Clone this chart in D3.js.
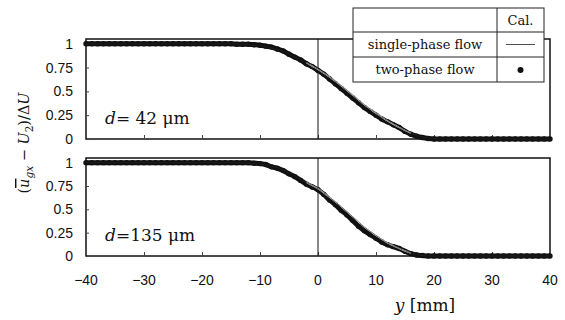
<!DOCTYPE html>
<html>
<head>
<meta charset="utf-8">
<script src="https://cdn.jsdelivr.net/npm/d3@7.9.0/dist/d3.min.js"></script>
<style>
  body { margin: 0; background: #fff; }
  svg { display: block; }
</style>
</head>
<body>
<svg id="chart" width="565" height="320"></svg>
<script>
// positions along y [mm], 1 mm step
const yPos = d3.range(-40, 41, 1);

// d = 42 um, two-phase (dots) and single-phase (line)
const twoPhase42 = [
  1, 1, 1, 1, 1, 1, 1, 1, 1, 1,
  1, 1, 1, 1, 1, 1, 1, 1, 1, 1,
  1, 1, 1, 1, 1, 1, 0.995, 0.995, 0.995, 0.99,
  0.985, 0.975, 0.965, 0.945, 0.925, 0.89, 0.86, 0.83, 0.79, 0.76,
  0.72, 0.68, 0.63, 0.58, 0.53, 0.48, 0.43, 0.38, 0.33, 0.29,
  0.25, 0.21, 0.18, 0.15, 0.12, 0.08, 0.05, 0.03, 0.015, 0.005,
  0, 0, 0, 0, 0, 0, 0, 0, 0, 0,
  0, 0, 0, 0, 0, 0, 0, 0, 0, 0, 0
];
const singlePhase42 = [
  1, 1, 1, 1, 1, 1, 1, 1, 1, 1,
  1, 1, 1, 1, 1, 1, 1, 1, 1, 1,
  1, 1, 1, 1, 1, 1, 0.998, 0.995, 0.99, 0.985,
  0.98, 0.97, 0.955, 0.94, 0.92, 0.89, 0.86, 0.83, 0.8, 0.765,
  0.73, 0.69, 0.65, 0.605, 0.56, 0.51, 0.46, 0.41, 0.36, 0.315,
  0.27, 0.23, 0.19, 0.155, 0.12, 0.09, 0.06, 0.035, 0.02, 0.01,
  0.003, 0, 0, 0, 0, 0, 0, 0, 0, 0,
  0, 0, 0, 0, 0, 0, 0, 0, 0, 0, 0
];

// d = 135 um
const twoPhase135 = [
  1, 1, 1, 1, 1, 1, 1, 1, 1, 1,
  1, 1, 1, 1, 1, 1, 1, 1, 1, 1,
  1, 1, 1, 1, 1, 1, 1, 1, 1, 0.995,
  0.99, 0.98, 0.955, 0.94, 0.915, 0.88, 0.85, 0.81, 0.77, 0.74,
  0.71, 0.66, 0.6, 0.55, 0.49, 0.44, 0.38, 0.32, 0.27, 0.23,
  0.19, 0.15, 0.12, 0.1, 0.08, 0.05, 0.025, 0.01, 0.005, 0,
  0, 0, 0, 0, 0, 0, 0, 0, 0, 0,
  0, 0, 0, 0, 0, 0, 0, 0, 0, 0, 0
];
const singlePhase135 = [
  1, 1, 1, 1, 1, 1, 1, 1, 1, 1,
  1, 1, 1, 1, 1, 1, 1, 1, 1, 1,
  1, 1, 1, 1, 1, 1, 1, 0.998, 0.995, 0.99,
  0.985, 0.975, 0.96, 0.945, 0.92, 0.89, 0.86, 0.825, 0.79, 0.755,
  0.72, 0.675, 0.63, 0.58, 0.53, 0.475, 0.42, 0.365, 0.31, 0.265,
  0.22, 0.18, 0.14, 0.11, 0.08, 0.055, 0.03, 0.015, 0.005, 0,
  0, 0, 0, 0, 0, 0, 0, 0, 0, 0,
  0, 0, 0, 0, 0, 0, 0, 0, 0, 0, 0
];

const xTicks = [-40, -30, -20, -10, 0, 10, 20, 30, 40];
const yTicks = [0, 0.25, 0.5, 0.75, 1];
const panelLabels = ["d= 42 \u03bcm", "d=135 \u03bcm"];
const legendRows = ["single-phase flow", "two-phase flow"];

const svg = d3.select('#chart');
const serif = '"DejaVu Serif", "Liberation Serif", serif';
const sans = '"Liberation Sans", Arial, sans-serif';

const x = d3.scaleLinear().domain([-40, 40]).range([86, 550]);

const panels = [
  {top: 39, bottom: 139, two: twoPhase42, single: singlePhase42, label: panelLabels[0], labelY: 124},
  {top: 158, bottom: 256, two: twoPhase135, single: singlePhase135, label: panelLabels[1], labelY: 241}
];

panels.forEach((p, pi) => {
  const y = d3.scaleLinear().domain([0, 1.05]).range([p.bottom, p.top]);
  const g = svg.append('g');

  // frame
  g.append('rect')
    .attr('x', x(-40)).attr('y', p.top)
    .attr('width', x(40) - x(-40)).attr('height', p.bottom - p.top)
    .attr('fill', 'none').attr('stroke', '#111').attr('stroke-width', 1.5);

  // y ticks (inward) + labels
  const yAx = g.append('g')
    .attr('transform', `translate(${x(-40)},0)`)
    .call(d3.axisRight(y).tickValues(yTicks).tickSize(3).tickFormat(''));
  yAx.select('.domain').remove();
  yAx.selectAll('line').attr('stroke', '#444');
  g.selectAll('.ylab')
    .data(yTicks)
    .join('text')
    .attr('x', 73).attr('y', d => y(d) + 5)
    .attr('text-anchor', 'end')
    .attr('font-family', sans).attr('font-size', 14)
    .attr('fill', '#111')
    .text(d => String(d));

  // x ticks (inward)
  const xAx = g.append('g')
    .attr('transform', `translate(0,${p.bottom})`)
    .call(d3.axisTop(x).tickValues(xTicks.slice(1, -1)).tickSize(4).tickFormat(''));
  xAx.select('.domain').remove();
  xAx.selectAll('line').attr('stroke', '#444');

  // vertical line at y = 0
  g.append('line')
    .attr('x1', x(0)).attr('x2', x(0))
    .attr('y1', p.top).attr('y2', p.bottom)
    .attr('stroke', '#111').attr('stroke-width', 1);

  const pts = yPos.map((v, i) => ({v, two: p.two[i], single: p.single[i]}));

  // two-phase: dense dots
  g.append('path')
    .datum(pts)
    .attr('fill', 'none').attr('stroke', '#111').attr('stroke-width', 5)
    .attr('d', d3.line().x(d => x(d.v)).y(d => y(d.two)).curve(d3.curveMonotoneX));
  g.selectAll('.dot')
    .data(pts)
    .join('circle')
    .attr('cx', d => x(d.v)).attr('cy', d => y(d.two))
    .attr('r', 2.7).attr('fill', '#111');

  // single-phase: thin line with white halo
  const sLine = d3.line().x(d => x(d.v)).y(d => y(d.single)).curve(d3.curveMonotoneX);
  const mid = pts.filter(d => d.v >= -2 && d.v <= 16);
  g.append('path').datum(mid)
    .attr('fill', 'none').attr('stroke', '#fff').attr('stroke-width', 1.2)
    .attr('d', sLine);
  g.append('path').datum(pts)
    .attr('fill', 'none').attr('stroke', '#222').attr('stroke-width', 0.7)
    .attr('d', sLine);

  // panel label
  const lt = g.append('text')
    .attr('x', 105).attr('y', p.labelY)
    .attr('font-family', serif).attr('font-size', 17).attr('fill', '#111');
  lt.append('tspan').attr('font-style', 'italic').text('d');
  lt.append('tspan').text(p.label.slice(1));
});

// x tick labels
svg.selectAll('.xlab')
  .data(xTicks)
  .join('text')
  .attr('x', d => x(d)).attr('y', 285)
  .attr('text-anchor', 'middle')
  .attr('font-family', sans).attr('font-size', 14).attr('fill', '#111')
  .text(d => d < 0 ? '\u2212' + Math.abs(d) : String(d));

// x title
const xt = svg.append('text')
  .attr('x', 425).attr('y', 311)
  .attr('text-anchor', 'middle')
  .attr('font-family', serif).attr('font-size', 17).attr('fill', '#111');
xt.append('tspan').attr('font-style', 'italic').text('y');
xt.append('tspan').text(' [mm]');

// y title
const yt = svg.append('text')
  .attr('transform', 'translate(29,143) rotate(-90)')
  .attr('text-anchor', 'middle')
  .attr('font-family', serif).attr('font-size', 14.5).attr('fill', '#111');
yt.append('tspan').text('(');
yt.append('tspan').attr('font-style', 'italic').attr('text-decoration', 'overline').text('u');
yt.append('tspan').attr('font-style', 'italic').attr('font-size', 10.5).attr('dy', 4).text('gx');
yt.append('tspan').attr('dy', -4).text(' \u2212 ');
yt.append('tspan').attr('font-style', 'italic').text('U');
yt.append('tspan').attr('font-size', 10.5).attr('dy', 4).text('2');
yt.append('tspan').attr('dy', -4).text(')/\u0394');
yt.append('tspan').attr('font-style', 'italic').text('U');

// legend table
const lg = svg.append('g');
const L = {x0: 353, x1: 497, x2: 544, r0: 8, r1: 32, r2: 57, r3: 82};
lg.append('rect')
  .attr('x', L.x0).attr('y', L.r0)
  .attr('width', L.x2 - L.x0).attr('height', L.r3 - L.r0)
  .attr('fill', '#fff').attr('stroke', '#222').attr('stroke-width', 1);
[L.r1, L.r2].forEach(yy => lg.append('line')
  .attr('x1', L.x0).attr('x2', L.x2).attr('y1', yy).attr('y2', yy)
  .attr('stroke', '#222'));
lg.append('line')
  .attr('x1', L.x1).attr('x2', L.x1).attr('y1', L.r0).attr('y2', L.r3)
  .attr('stroke', '#222');
lg.append('text')
  .attr('x', (L.x1 + L.x2) / 2).attr('y', 25)
  .attr('text-anchor', 'middle')
  .attr('font-family', serif).attr('font-size', 13).attr('fill', '#111')
  .text('Cal.');
lg.selectAll('.lrow')
  .data(legendRows)
  .join('text')
  .attr('x', (L.x0 + L.x1) / 2).attr('y', (d, i) => 49 + i * 25)
  .attr('text-anchor', 'middle')
  .attr('font-family', serif).attr('font-size', 13).attr('fill', '#111')
  .text(d => d);
lg.append('line')
  .attr('x1', 506).attr('x2', 535).attr('y1', 44.5).attr('y2', 44.5)
  .attr('stroke', '#222').attr('stroke-width', 0.8);
lg.append('circle')
  .attr('cx', (L.x1 + L.x2) / 2).attr('cy', 70).attr('r', 3)
  .attr('fill', '#111');
</script>
</body>
</html>
